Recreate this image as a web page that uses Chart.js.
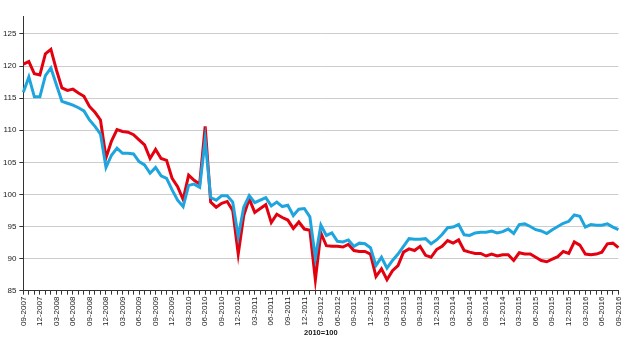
<!DOCTYPE html>
<html>
<head>
<meta charset="utf-8">
<script src="https://cdn.jsdelivr.net/npm/chart.js@4/dist/chart.umd.min.js"></script>
<style>
  body { margin: 0; background: #fff; }
  #wrap { width: 630px; height: 339px; }
</style>
</head>
<body>
<div id="wrap"><canvas id="chart" width="630" height="339"></canvas></div>
<script>
// monthly categories 09-2007 .. 09-2016
const months = [];
for (let y = 2007, m = 9; y < 2016 || (y === 2016 && m <= 9); m++) {
    if (m > 12) { m = 1; y++; }
    months.push(String(m).padStart(2, '0') + '-' + y);
}

const redSeries = [
    120.3, 120.7, 118.8, 118.6, 121.9, 122.6, 119.4, 116.6, 116.2, 116.4, 115.8, 115.3,
    113.7, 112.8, 111.6, 105.7, 108.3, 110.1, 109.8, 109.7, 109.3, 108.5, 107.7, 105.6,
    107.0, 105.6, 105.3, 102.5, 101.2, 99.2, 103.0, 102.2, 101.6, 110.6, 98.8, 98.0,
    98.6, 98.9, 97.5, 90.7, 96.7, 99.3, 97.2, 97.8, 98.4, 95.6, 96.9, 96.4,
    96.0, 94.7, 95.7, 94.6, 94.4, 86.7, 94.0, 92.0, 91.9, 91.9, 91.8, 92.2,
    91.25, 91.1, 91.1, 90.7, 87.2, 88.4, 86.7, 88.1, 88.9, 91.0, 91.5, 91.25,
    91.9, 90.5, 90.2, 91.4, 91.9, 92.8, 92.4, 92.9, 91.25, 91.0, 90.8, 90.8,
    90.4, 90.7, 90.4, 90.6, 90.6, 89.7, 90.9, 90.7, 90.7, 90.2, 89.7, 89.5,
    89.9, 90.3, 91.1, 90.8, 92.6, 92.1, 90.7, 90.6, 90.7, 91.0, 92.3, 92.4,
    91.7
];

const blueSeries = [
    115.9, 118.3, 115.2, 115.2, 118.5, 119.7, 117.1, 114.5, 114.2, 113.9, 113.5, 113.0,
    111.6, 110.6, 109.4, 104.2, 106.1, 107.2, 106.4, 106.4, 106.3, 105.1, 104.6, 103.3,
    104.2, 102.9, 102.5, 100.7, 99.1, 98.1, 101.4, 101.6, 101.1, 108.5, 99.5, 99.1,
    99.8, 99.8, 98.8, 93.4, 98.0, 99.8, 98.7, 99.1, 99.5, 98.2, 98.8, 98.1,
    98.3, 96.7, 97.7, 97.8, 96.5, 90.1, 95.2, 93.6, 94.0, 92.7, 92.6, 92.9,
    91.9, 92.4, 92.3, 91.7, 88.9, 90.2, 88.5, 89.7, 90.7, 91.9, 93.1, 93.0,
    93.0, 93.1, 92.3, 92.9, 93.75, 94.8, 94.9, 95.3, 93.7, 93.6, 94.0, 94.1,
    94.1, 94.3, 94.0, 94.2, 94.6, 93.9, 95.3, 95.4, 95.0, 94.5, 94.3, 93.9,
    94.5, 95.0, 95.5, 95.8, 96.8, 96.6, 94.9, 95.3, 95.2, 95.2, 95.4, 94.9,
    94.5
];

const yTicks = [85, 90, 95, 100, 105, 110, 115, 120, 125];
const axisNote = '2010=100';

const textColor = '#1a1a1a';
const gridColor = '#cdcdcd';
const axisColor = '#333';

new Chart(document.getElementById('chart').getContext('2d'), {
    type: 'line',
    data: {
        labels: months,
        datasets: [{
            data: blueSeries,
            borderColor: '#1fa5de',
            borderWidth: 3,
            pointRadius: 0,
            tension: 0,
        }, {
            data: redSeries,
            borderColor: '#e3000f',
            borderWidth: 3,
            pointRadius: 0,
            tension: 0,
        }]
    },
    options: {
        responsive: false,
        animation: false,
        layout: {
            padding: { top: 16, right: 8, left: 0, bottom: 2 }
        },
        plugins: {
            legend: { display: false },
            tooltip: { enabled: false }
        },
        scales: {
            x: {
                offset: false,
                grid: {
                    drawOnChartArea: false,
                    drawTicks: true,
                    tickLength: 4,
                    color: axisColor,
                },
                border: { color: axisColor, width: 1 },
                ticks: {
                    autoSkip: false,
                    maxRotation: 90,
                    minRotation: 90,
                    padding: 2,
                    color: textColor,
                    font: { family: 'Liberation Sans, Arial', size: 8 },
                    callback: (val, i) => i % 3 === 0 ? months[i] : '',
                },
                title: {
                    display: true,
                    text: axisNote,
                    color: textColor,
                    padding: { top: 0, bottom: 0 },
                    font: { family: 'Liberation Sans, Arial', size: 7.5, weight: 'bold' },
                }
            },
            y: {
                min: 85,
                max: 127.8,
                afterBuildTicks: (scale) => {
                    scale.ticks = yTicks.map(v => ({ value: v }));
                },
                grid: {
                    color: gridColor,
                    tickColor: axisColor,
                    tickLength: 4,
                },
                border: { color: axisColor, width: 1 },
                ticks: {
                    padding: 3,
                    color: textColor,
                    font: { family: 'Liberation Sans, Arial', size: 8 },
                }
            }
        }
    }
});
</script>
</body>
</html>
